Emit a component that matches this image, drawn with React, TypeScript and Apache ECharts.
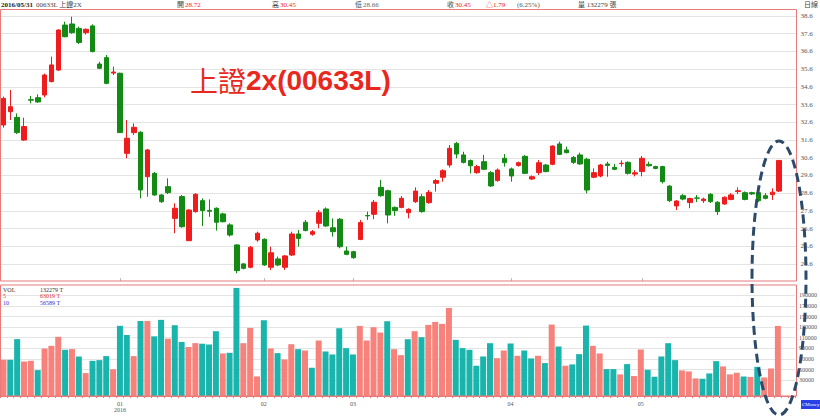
import React, { useEffect, useRef } from "react";
import * as echarts from "echarts";

const dates = [
  "2015/12/09","2015/12/10","2015/12/11","2015/12/14","2015/12/15","2015/12/16","2015/12/17","2015/12/18","2015/12/21","2015/12/22","2015/12/23","2015/12/24","2015/12/25","2015/12/28","2015/12/29","2015/12/30","2015/12/31",
  "2016/01/04","2016/01/05","2016/01/06","2016/01/07","2016/01/08","2016/01/11","2016/01/12","2016/01/13","2016/01/14","2016/01/15","2016/01/18","2016/01/19","2016/01/20","2016/01/21","2016/01/22","2016/01/25","2016/01/26","2016/01/27","2016/01/28","2016/01/29","2016/01/30",
  "2016/02/01","2016/02/02","2016/02/03","2016/02/15","2016/02/16","2016/02/17","2016/02/18","2016/02/19","2016/02/22","2016/02/23","2016/02/24","2016/02/25","2016/02/26",
  "2016/03/01","2016/03/02","2016/03/03","2016/03/04","2016/03/07","2016/03/08","2016/03/09","2016/03/10","2016/03/11","2016/03/14","2016/03/15","2016/03/16","2016/03/17","2016/03/18","2016/03/21","2016/03/22","2016/03/23","2016/03/24","2016/03/25","2016/03/28","2016/03/29","2016/03/30","2016/03/31",
  "2016/04/01","2016/04/06","2016/04/07","2016/04/08","2016/04/11","2016/04/12","2016/04/13","2016/04/14","2016/04/15","2016/04/18","2016/04/19","2016/04/20","2016/04/21","2016/04/22","2016/04/25","2016/04/26","2016/04/27","2016/04/28","2016/04/29",
  "2016/05/03","2016/05/04","2016/05/05","2016/05/06","2016/05/09","2016/05/10","2016/05/11","2016/05/12","2016/05/13","2016/05/16","2016/05/17","2016/05/18","2016/05/19","2016/05/20","2016/05/23","2016/05/24","2016/05/25","2016/05/26","2016/05/27","2016/05/30","2016/05/31",
];

const openP = [
  32.45,33.20,32.88,31.60,33.88,33.99,34.14,34.90,35.55,38.09,38.15,37.90,37.66,38.04,35.89,36.25,35.38,
  35.37,30.85,32.02,32.04,29.53,29.72,28.50,28.97,27.18,28.41,25.92,27.56,28.18,27.63,27.75,27.43,26.81,25.68,24.61,24.42,25.96,
  26.00,24.42,24.89,24.42,25.11,26.30,26.96,26.28,26.90,27.71,26.65,27.13,25.34,
  25.30,25.99,27.34,27.41,28.93,28.74,27.80,27.80,27.50,28.12,28.40,28.07,29.16,29.50,30.19,31.41,30.76,30.44,29.76,30.38,29.76,29.31,30.57,
  29.97,30.17,30.68,29.40,29.76,30.19,30.23,31.38,31.04,30.62,30.76,30.51,29.50,29.57,30.25,30.06,30.27,30.34,29.68,
  29.82,30.23,30.10,30.10,29.00,27.88,28.46,28.07,28.33,28.18,28.54,28.09,27.99,28.25,28.69,28.63,28.63,28.63,28.46,28.52,28.72,
];
const highP = [
  34.05,34.42,33.10,32.86,34.09,34.18,35.35,36.31,37.85,38.28,38.56,38.00,37.90,38.13,36.02,36.40,35.74,
  35.40,32.73,32.54,32.10,31.10,29.80,28.55,29.44,28.03,28.50,27.70,28.60,28.31,28.25,27.80,27.50,26.90,25.72,24.65,25.62,26.43,
  26.05,25.58,25.02,25.10,26.43,26.52,27.09,26.52,27.65,27.80,27.18,27.20,25.58,
  25.35,27.09,27.56,28.22,29.35,28.80,27.85,28.44,27.75,28.93,28.55,28.78,29.40,29.95,31.32,31.50,30.94,30.50,30.20,30.76,29.85,30.00,30.81,
  30.05,30.38,30.75,29.60,30.47,30.25,31.30,31.51,31.23,30.70,30.89,30.60,30.00,30.25,30.38,30.25,30.45,30.40,29.90,
  30.70,30.38,30.15,30.15,29.05,28.20,28.55,28.35,28.50,28.35,28.60,28.15,28.42,28.60,28.93,28.70,28.68,28.80,28.60,28.88,30.45,
];
const lowP = [
  32.30,32.73,31.94,31.55,33.67,33.70,34.01,34.85,35.50,37.40,37.60,37.02,37.55,36.55,35.60,34.75,35.27,
  32.00,30.57,31.89,28.31,28.40,28.45,28.05,28.55,26.34,26.65,25.90,27.50,26.75,27.27,26.49,26.95,26.15,24.08,24.30,24.36,25.86,
  24.50,24.27,24.48,24.27,25.05,25.58,26.45,26.20,26.62,26.70,26.15,25.49,25.10,
  24.90,25.95,27.09,27.13,28.40,26.90,27.32,27.75,27.18,28.05,27.50,28.00,28.69,29.25,30.05,30.57,30.28,29.72,29.70,29.90,28.95,29.25,30.10,
  29.25,30.10,29.68,29.35,29.63,29.78,30.18,30.75,30.84,30.25,30.20,28.59,29.45,29.50,29.53,29.90,30.10,29.65,29.55,
  29.55,30.10,29.95,29.15,28.10,27.65,28.20,27.75,28.10,28.05,28.05,27.37,27.95,28.20,28.55,28.20,28.50,28.10,28.25,28.22,28.66,
];
const closeP = [
  33.95,33.48,32.02,32.36,33.85,33.75,35.27,35.84,37.81,37.43,37.66,37.11,37.85,36.59,35.65,34.80,35.44,
  32.02,31.70,32.32,28.78,31.04,28.50,28.12,28.63,27.75,26.71,27.65,28.54,27.62,27.58,26.96,26.99,26.24,24.23,24.36,25.55,26.34,
  24.55,25.24,24.55,25.06,26.30,26.05,26.49,26.43,27.50,26.75,26.43,25.58,25.15,
  24.96,26.94,27.32,28.09,28.46,27.37,27.62,28.31,27.69,28.72,27.56,28.65,29.31,29.87,31.13,30.81,30.34,30.15,30.10,29.95,29.01,29.91,30.32,
  29.57,30.32,29.72,29.53,30.32,29.82,31.26,30.79,30.89,30.34,30.25,28.78,29.76,30.19,30.17,29.95,30.29,29.72,29.75,
  30.57,30.15,30.00,29.25,28.18,28.16,28.27,28.30,28.32,28.27,28.12,27.56,28.37,28.50,28.74,28.25,28.56,28.18,28.31,28.66,30.45,
];
const volumes = [
  68300,68300,107400,65100,66400,48900,89600,94700,111700,87200,88500,74500,43200,66400,67700,75300,50500,
  132400,115100,75300,141500,141500,112600,143700,108200,133600,102000,92500,99800,98700,97200,122300,80300,81500,204000,99700,128500,37000,
  143000,89700,80900,69000,97800,88400,85900,53300,104700,84000,78400,127900,90300,
  78400,132300,104700,129800,119800,141100,88400,77100,107200,122300,111000,134200,139800,136100,166200,106000,90300,87200,57100,74600,99700,71500,85900,
  99100,75900,85900,70900,75900,62100,134800,93400,57100,59600,79000,132900,94700,80300,50800,50800,40800,60200,37600,
  87800,49500,36400,74600,99700,67700,48300,46400,33200,32600,42600,65800,55800,40800,43900,36800,36000,55100,34900,51900,132279,
];

const priceTicks = [24.6, 25.6, 26.6, 27.6, 28.6, 29.6, 30.6, 31.6, 32.6, 33.6, 34.6, 35.6, 36.6, 37.6, 38.6];
const volumeTicks = [30000, 50000, 70000, 90000, 110000, 130000, 150000, 170000, 190000];

const titleCn = "上證";
const titleCode = "2x(00633L)";
const headerDate = "2016/05/31";
const headerName = "00633L 上證2X";
const headerOpen = "28.72";
const headerHigh = "30.45";
const headerLow = "28.66";
const headerClose = "30.45";
const headerChange = "△1.79";
const headerPct = "(6.25%)";
const headerVol = "量 132279 張";
const headerPeriod = "日線";
const legendVol = ["VOL", "132279 T"];
const legendMa5 = ["5", "63019 T"];
const legendMa10 = ["10", "56589 T"];

const UP = "#ee1c1c";
const DOWN = "#138a13";
const VOL_UP = "#f7817b";
const VOL_DOWN = "#19b5ad";
const BORDER = "#e87a7a";
const SMALL_FONT = "'Liberation Serif', 'Noto Sans CJK TC', serif";

export default function App() {
  const ref = useRef<HTMLDivElement>(null);

  useEffect(() => {
    if (!ref.current) return;
    const chart = echarts.init(ref.current, null, { renderer: "svg" });

    const categories = [...dates, "", ""];
    const candleData = dates.map((_, i) => [openP[i], closeP[i], lowP[i], highP[i]]);
    const volData = volumes.map((v, i) => ({
      value: v,
      itemStyle: { color: i === 0 || closeP[i] >= closeP[i - 1] ? VOL_UP : VOL_DOWN },
    }));
    const isMonthStart = (index: number) =>
      index > 0 && index < dates.length && dates[index].slice(0, 7) !== dates[index - 1].slice(0, 7);

    const txt = (x: number, y: number, text: string, fill: string, size = 7, extra: any = {}, z = 50) => ({
      type: "text",
      x,
      y,
      z,
      style: { text, fill, fontSize: size, fontFamily: SMALL_FONT, align: "left", verticalAlign: "middle", ...extra },
    });

    const option: any = {
      animation: false,
      backgroundColor: "#ffffff",
      grid: [
        { left: -4, top: 10, width: 800.4, height: 271 },
        { left: -4, top: 285, width: 800.4, height: 111 },
      ],
      xAxis: [
        {
          type: "category",
          gridIndex: 0,
          data: categories,
          boundaryGap: true,
          axisLine: { show: false },
          axisLabel: { show: false },
          axisTick: {
            show: true,
            inside: true,
            length: 3,
            alignWithLabel: true,
            interval: (i: number) => isMonthStart(i),
            lineStyle: { color: "#bbbbbb" },
          },
          splitLine: { show: false },
        },
        {
          type: "category",
          gridIndex: 1,
          data: categories,
          boundaryGap: true,
          axisLine: { show: true, lineStyle: { color: BORDER, width: 1 } },
          axisTick: { show: true, interval: 0, length: 2, lineStyle: { color: BORDER } },
          axisLabel: {
            interval: (i: number) => isMonthStart(i),
            formatter: (v: string) => {
              if (!v) return "";
              const [y, m] = v.split("/");
              return m === "01" ? `${m}\n${y}` : m;
            },
            fontSize: 6,
            lineHeight: 6,
            color: "#555555",
            fontFamily: SMALL_FONT,
            margin: 5,
          },
          splitLine: { show: false },
        },
      ],
      yAxis: [
        {
          type: "value",
          gridIndex: 0,
          position: "right",
          min: 23.645,
          max: 38.939,
          axisLine: { show: false },
          axisTick: { show: false, customValues: priceTicks },
          axisLabel: {
            customValues: priceTicks,
            formatter: (v: number) => v.toFixed(1),
            fontSize: 7,
            color: "#555555",
            fontFamily: SMALL_FONT,
            margin: 4,
            padding: [4, 0, 0, 0],
          },
          splitLine: { show: true, lineStyle: { color: "#e4e4e4", width: 1 } },
        },
        {
          type: "value",
          gridIndex: 1,
          position: "right",
          min: 0,
          max: 209500,
          axisLine: { show: false },
          axisTick: { show: false, customValues: volumeTicks },
          axisLabel: {
            customValues: volumeTicks,
            formatter: (v: number) => String(v),
            fontSize: 6,
            color: "#555555",
            fontFamily: SMALL_FONT,
            margin: 4,
          },
          splitLine: { show: true, lineStyle: { color: "#e4e4e4", width: 1 } },
        },
      ],
      series: [
        {
          type: "candlestick",
          xAxisIndex: 0,
          yAxisIndex: 0,
          data: candleData,
          barWidth: 5,
          itemStyle: {
            color: UP,
            color0: DOWN,
            borderColor: UP,
            borderColor0: DOWN,
            borderColorDoji: DOWN,
            borderWidth: 1,
          },
        },
        {
          type: "bar",
          xAxisIndex: 1,
          yAxisIndex: 1,
          data: volData,
          barWidth: 6,
        },
      ],
      graphic: [
        { type: "rect", z: 40, shape: { x: 0.5, y: 9.5, width: 796, height: 271.5 }, style: { fill: "none", stroke: BORDER, lineWidth: 1 } },
        { type: "rect", z: 40, shape: { x: 0.5, y: 285, width: 796, height: 111 }, style: { fill: "none", stroke: BORDER, lineWidth: 1 } },
        txt(1, 4.5, headerDate, "#222222", 7, { fontWeight: "bold" }),
        txt(36, 4.5, headerName, "#444444"),
        txt(177, 4.5, "開", "#444444"),
        txt(185, 4.5, headerOpen, UP),
        txt(272, 4.5, "高", "#444444"),
        txt(280, 4.5, headerHigh, UP),
        txt(355, 4.5, "低", "#444444"),
        txt(363, 4.5, headerLow, "#666666"),
        txt(447, 4.5, "收", "#444444"),
        txt(455, 4.5, headerClose, UP),
        txt(486, 4.5, headerChange, UP),
        txt(517, 4.5, headerPct, "#555555"),
        txt(578, 4.5, headerVol, "#444444"),
        txt(804, 4.5, headerPeriod, "#444444"),
        txt(3, 289.5, legendVol[0], "#333333", 6),
        txt(40, 289.5, legendVol[1], "#333333", 6),
        txt(3, 296, legendMa5[0], "#e03030", 6),
        txt(40, 296, legendMa5[1], "#e03030", 6),
        txt(3, 302.5, legendMa10[0], "#3030d0", 6),
        txt(40, 302.5, legendMa10[1], "#3030d0", 6),
        {
          type: "text",
          x: 190,
          y: 80,
          z: 60,
          style: {
            text: `{a|${titleCn}}{b|${titleCode}}`,
            align: "left",
            verticalAlign: "middle",
            rich: {
              a: { fontSize: 28, fontFamily: "'Noto Sans CJK TC'", fontWeight: "normal", fill: "#e8281e", color: "#e8281e" },
              b: { fontSize: 28, fontFamily: "'Liberation Sans', Arial, sans-serif", fontWeight: "bold", fill: "#e8281e", color: "#e8281e" },
            },
          },
        },
        { type: "rect", z: 60, shape: { x: 801, y: 400, width: 19, height: 9 }, style: { fill: "#2a40e6" } },
        txt(802, 404.5, "CMoney", "#ffffff", 5, {}, 65),
        {
          type: "ellipse",
          z: 70,
          shape: { cx: 779, cy: 278, rx: 27, ry: 137 },
          style: { fill: "none", stroke: "#2e4a6b", lineWidth: 3, lineDash: [9, 5] },
        },
      ],
    };

    chart.setOption(option);
    return () => chart.dispose();
  }, []);

  return (
    <div
      ref={ref}
      style={{ position: "absolute", left: 0, top: 0, width: 820, height: 416, background: "#fff" }}
    />
  );
}
